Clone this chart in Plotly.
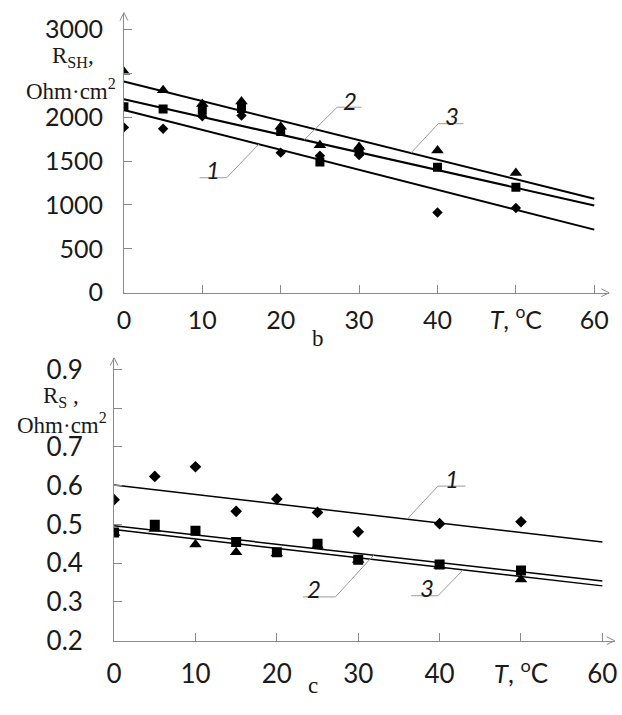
import plotly.graph_objects as go

W, H = 622, 715

# ---------------- data: panel b (R_SH) ----------------
T = [0, 5, 10, 15, 20, 25, 30, 40, 50]
rsh_1 = [1884, 1869, 2010, 2020, 1596, 1560, 1570, 915, 966]
rsh_2 = [2120, 2094, 2080, 2100, 1836, 1490, 1610, 1430, 1202]
rsh_3 = [2518, 2308, 2150, 2180, 1890, 1680, 1660, 1622, 1364]
fit_T = [0, 60]
rsh_fit_1 = [2083, 719]
rsh_fit_2 = [2204, 995]
rsh_fit_3 = [2407, 1070]

# ---------------- data: panel c (R_S) ----------------
rs_1 = [0.564, 0.624, 0.649, 0.534, 0.566, 0.531, 0.481, 0.502, 0.507]
rs_2 = [0.479, 0.499, 0.484, 0.455, 0.428, 0.450, 0.409, 0.397, 0.381]
rs_3 = [0.478, 0.488, 0.448, 0.428, 0.425, 0.445, 0.408, 0.393, 0.358]
rs_fit_1 = [0.602, 0.4545]
rs_fit_2 = [0.4965, 0.354]
rs_fit_3 = [0.487, 0.3415]

# tick labels
x_ticks = [0, 10, 20, 30, 40, 50, 60]
x_ticktext = ["0", "10", "20", "30", "40", "<i>T</i>, <sup>o</sup>C", "60"]
rsh_ticks = [0, 500, 1000, 1500, 2000, 2500, 3000]
rsh_ticktext = ["0", "500", "1000", "1500", "2000", "", "3000"]
rs_ticks = [0.2, 0.3, 0.4, 0.5, 0.6, 0.7, 0.8, 0.9]
rs_ticktext = ["0.2", "0.3", "0.4", "0.5", "0.6", "0.7", "", "0.9"]

# ---------------- layout geometry (pixels) ----------------
b_x0, b_x1 = 118, 612
b_y0, b_y1 = 296, 8
b_xrange = [0, 61.9]
b_yrange = [0, 3190]
c_x0, c_x1 = 108, 617.5
c_y0, c_y1 = 654, 363
c_xrange = [0, 61.5]
c_yrange = [0.2, 0.93]

def px(x):
    return x / W

def py(y):
    return 1 - y / H

AX = "#8a8a8a"
TXT = "#1a1a1a"
TICKFONT_B = dict(family="Lato", size=25, color=TXT)
TICKFONT_C = dict(family="Lato", size=26, color=TXT)

fig = go.Figure()

mk = dict(color="black")
def add_panel(xa, ya, s1, s2, s3, f1, f2, f3, lw, msz):
    fig.add_trace(go.Scatter(x=T, y=s1, mode="markers", xaxis=xa, yaxis=ya,
                             marker=dict(symbol="diamond", size=msz[0], **mk)))
    fig.add_trace(go.Scatter(x=T, y=s2, mode="markers", xaxis=xa, yaxis=ya,
                             marker=dict(symbol="square", size=msz[1], **mk)))
    fig.add_trace(go.Scatter(x=T, y=s3, mode="markers", xaxis=xa, yaxis=ya,
                             marker=dict(symbol="triangle-up", size=msz[2], **mk)))
    for f in (f1, f2, f3):
        fig.add_trace(go.Scatter(x=fit_T, y=f, mode="lines", xaxis=xa, yaxis=ya,
                                 line=dict(color="black", width=lw)))

add_panel("x", "y", rsh_1, rsh_2, rsh_3, rsh_fit_1, rsh_fit_2, rsh_fit_3, 2, (8, 9, 11))
add_panel("x2", "y2", rs_1, rs_2, rs_3, rs_fit_1, rs_fit_2, rs_fit_3, 1.5, (9, 10, 11))

axis_common = dict(showgrid=False, zeroline=False, showline=True, linecolor=AX,
                   linewidth=1, ticks="inside", ticklen=8, tickcolor=AX,
                   tickwidth=1, tickmode="array", fixedrange=True)

fig.update_layout(
    width=W, height=H, margin=dict(l=0, r=0, t=0, b=0),
    paper_bgcolor="white", plot_bgcolor="white", showlegend=False,
    xaxis=dict(domain=[px(b_x0), px(b_x1)], range=b_xrange, anchor="y", tickfont=TICKFONT_B,
               tickvals=x_ticks, ticktext=x_ticktext, ticklabelstandoff=5, **axis_common),
    yaxis=dict(domain=[py(b_y0), py(b_y1)], range=b_yrange, anchor="x", tickfont=TICKFONT_B,
               tickvals=rsh_ticks, ticktext=rsh_ticktext, ticklabelstandoff=15, **axis_common),
    xaxis2=dict(domain=[px(c_x0), px(c_x1)], range=c_xrange, anchor="y2", tickfont=TICKFONT_C,
                tickvals=x_ticks, ticktext=x_ticktext, ticklabelstandoff=10, **axis_common),
    yaxis2=dict(domain=[py(c_y0), py(c_y1)], range=c_yrange, anchor="x2", tickfont=TICKFONT_C,
                tickvals=rs_ticks, ticktext=rs_ticktext, ticklabelstandoff=25, **axis_common),
)

def chevron(tipx, tipy, dx1, dy1, dx2, dy2):
    return dict(type="path", xref="paper", yref="paper",
                path=f"M{px(tipx+dx1)},{py(tipy+dy1)} L{px(tipx)},{py(tipy)} L{px(tipx+dx2)},{py(tipy+dy2)}",
                line=dict(color=AX, width=1))

shapes = [
    chevron(b_x0, b_y1, -4, 8, 4, 8),
    chevron(b_x1, b_y0, -8, -4, -8, 4),
    chevron(c_x0, c_y1, -4, 8, 4, 8),
    chevron(c_x1, c_y0, -8, -4, -8, 4),
]

def on_line(f, t):
    return f[0] + (f[1] - f[0]) * t / 60.0

LEAD = "#9a9a9a"
def leader(xa, ya, h_from, h_to, h_val, t_line, fit):
    return [
        dict(type="line", xref=xa, yref=ya, x0=h_from, x1=h_to, y0=h_val, y1=h_val,
             line=dict(color=LEAD, width=1)),
        dict(type="line", xref=xa, yref=ya,
             x0=(h_to if t_line > h_to else h_from), y0=h_val,
             x1=t_line, y1=on_line(fit, t_line), line=dict(color=LEAD, width=1)),
    ]

b_leaders = [
    ("1", 11.3, 1400, 9.65, 13.1, 1310, 17.2, rsh_fit_1),
    ("2", 28.8, 2190, 27.2, 30.3, 2114, 23.0, rsh_fit_2),
    ("3", 41.8, 2025, 40.1, 43.3, 1926, 36.6, rsh_fit_3),
]
c_leaders = [
    ("1", 41.5, 0.619, 39.8, 43.2, 0.599, 36.0, rs_fit_1),
    ("2", 24.6, 0.335, 23.2, 27.2, 0.313, 31.9, rs_fit_2),
    ("3", 38.4, 0.338, 36.5, 39.8, 0.316, 42.9, rs_fit_3),
]

annotations = []
for xa, ya, lst in (("x", "y", b_leaders), ("x2", "y2", c_leaders)):
    for lab, tx, ty, h0, h1, hv, tl, fit in lst:
        shapes += leader(xa, ya, h0, h1, hv, tl, fit)
        annotations.append(dict(x=tx, y=ty, xref=xa, yref=ya, text=f"<i>{lab}</i>",
                                showarrow=False, font=dict(family="Lato", size=24, color=TXT)))

SERIF = dict(family="Liberation Serif", size=23, color=TXT)
def ptext(x, y, text, font=SERIF, yanchor="middle"):
    annotations.append(dict(x=px(x), y=py(y), xref="paper", yref="paper", text=text,
                            showarrow=False, font=font, xanchor="center", yanchor=yanchor))

ptext(66, 54, "R<sub>SH</sub>,")
ptext(64, 87, "Ohm·cm<sup>2</sup>")
ptext(54, 403, "R<sub>S</sub> ,")
ptext(55, 431, "Ohm·cm<sup>2</sup>")
ptext(316, 358, "b", yanchor="bottom")
ptext(310, 715, "c", yanchor="bottom")

fig.update_layout(shapes=shapes, annotations=annotations)

fig.write_html("out.html")
